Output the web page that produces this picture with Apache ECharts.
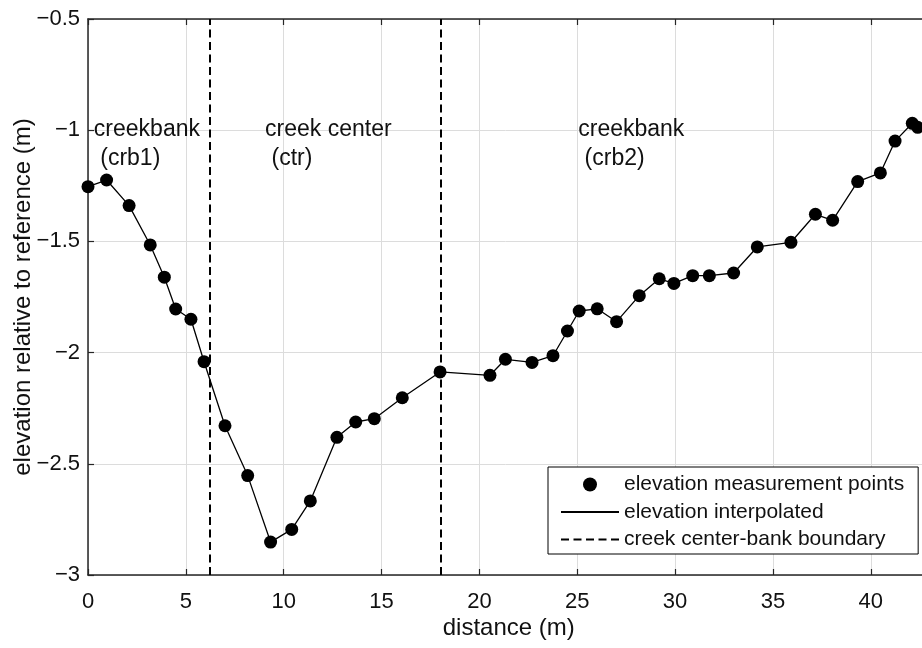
<!DOCTYPE html>
<html>
<head>
<meta charset="utf-8">
<script src="https://cdn.jsdelivr.net/npm/echarts@6/dist/echarts.min.js"></script>
<style>
  html, body { margin: 0; padding: 0; background: #fff; }
  #chart { width: 922px; height: 648px; }
</style>
</head>
<body>
<div id="chart"></div>
<script>
// Survey transect: distance along the line (m) and elevation relative to reference (m)
const distance = [0, 0.95, 2.1, 3.18, 3.9, 4.48, 5.26, 5.93, 7.0, 8.16, 9.33, 10.41, 11.36,
  12.72, 13.68, 14.63, 16.06, 17.99, 20.54, 21.33, 22.69, 23.76, 24.5, 25.1, 26.02, 27.01,
  28.17, 29.19, 29.94, 30.9, 31.75, 32.99, 34.2, 35.92, 37.17, 38.05, 39.33, 40.49, 41.24,
  42.12, 42.4];
const elevation = [-1.254, -1.224, -1.339, -1.516, -1.661, -1.804, -1.850, -2.041, -2.329,
  -2.553, -2.852, -2.795, -2.667, -2.381, -2.312, -2.297, -2.203, -2.087, -2.102, -2.030,
  -2.044, -2.014, -1.903, -1.813, -1.803, -1.861, -1.744, -1.668, -1.689, -1.654, -1.654,
  -1.642, -1.525, -1.504, -1.378, -1.405, -1.231, -1.192, -1.049, -0.969, -0.987];

// Creek center / bank boundaries (m)
const boundaries = [6.2, 18.0];

// Zone names and where they are written (data coordinates)
const zoneNames = ['creekbank\n (crb1)', 'creek center\n (ctr)', 'creekbank\n (crb2)'];
const zoneX = [0.3, 9.05, 25.05];
const zoneY = [-1.065, -1.065, -1.065];

const seriesNames = ['elevation measurement points', 'elevation interpolated', 'creek center-bank boundary'];

const pairs = distance.map((d, i) => [d, elevation[i]]);
const zones = zoneNames.map((n, i) => ({ value: [zoneX[i], zoneY[i]], name: n }));

const FONT = '"Liberation Sans", Arial, Helvetica, sans-serif';
const AXIS_COLOR = '#262626';
const INK = '#111111';

// Tick labels use a true minus sign
const fmtTick = v => String(v).replace('-', '\u2212');

const chart = echarts.init(document.getElementById('chart'), null, { renderer: 'canvas' });

chart.setOption({
  animation: false,
  backgroundColor: '#ffffff',
  textStyle: { fontFamily: FONT },
  grid: {
    left: 88, top: 19, width: 841.5, height: 556,
    containLabel: false, outerBoundsMode: 'none'
  },
  legend: {
    orient: 'vertical',
    left: 548,
    top: 467,
    data: [
      { name: seriesNames[0], icon: 'circle' },
      { name: seriesNames[1], itemStyle: { opacity: 0 } },
      { name: seriesNames[2], itemStyle: { opacity: 0 } }
    ],
    itemWidth: 58,
    itemHeight: 14,
    itemGap: 6.5,
    padding: [7, 14, 4, 12],
    borderColor: '#000',
    borderWidth: 1,
    backgroundColor: '#fff',
    selectedMode: false,
    textStyle: { fontFamily: FONT, fontSize: 21, color: INK }
  },
  xAxis: [{
    type: 'value',
    min: 0,
    max: 43,
    interval: 5,
    position: 'bottom',
    name: 'distance (m)',
    nameLocation: 'middle',
    nameGap: 41,
    nameMoveOverlap: false,
    nameTextStyle: { fontFamily: FONT, fontSize: 24, color: INK },
    axisLine: { show: true, onZero: false, lineStyle: { color: AXIS_COLOR, width: 1.5 } },
    axisTick: { show: true, inside: true, length: 6, lineStyle: { color: AXIS_COLOR, width: 1.2 } },
    axisLabel: { fontFamily: FONT, fontSize: 22, color: INK, margin: 16, showMaxLabel: false },
    splitLine: { show: true, lineStyle: { color: '#dcdcdc', width: 1 } }
  }, {
    type: 'value',
    min: 0,
    max: 43,
    interval: 5,
    position: 'top',
    axisLine: { show: true, onZero: false, lineStyle: { color: AXIS_COLOR, width: 1.5 } },
    axisTick: { show: true, inside: true, length: 6, lineStyle: { color: AXIS_COLOR, width: 1.2 } },
    axisLabel: { show: false },
    splitLine: { show: false }
  }],
  yAxis: {
    type: 'value',
    min: -3,
    max: -0.5,
    interval: 0.5,
    name: 'elevation relative to reference (m)',
    nameLocation: 'middle',
    nameGap: 53,
    nameMoveOverlap: false,
    nameTextStyle: { fontFamily: FONT, fontSize: 24, color: INK },
    axisLine: { show: true, onZero: false, lineStyle: { color: AXIS_COLOR, width: 1.5 } },
    axisTick: { show: true, inside: true, length: 6, lineStyle: { color: AXIS_COLOR, width: 1.2 } },
    axisLabel: { fontFamily: FONT, fontSize: 22, color: INK, margin: 8, formatter: fmtTick },
    splitLine: { show: true, lineStyle: { color: '#dcdcdc', width: 1 } }
  },
  series: [
    {
      name: seriesNames[2],
      type: 'line',
      data: [],
      symbol: 'none',
      color: '#000',
      itemStyle: { opacity: 0 },
      lineStyle: { color: '#000', width: 2, type: [8, 4.5] },
      markLine: {
        silent: true,
        symbol: ['none', 'none'],
        label: { show: false },
        lineStyle: { color: '#000', width: 2, type: [8, 4.5], opacity: 1 },
        emphasis: { disabled: true },
        data: boundaries.map(b => ({ xAxis: b }))
      },
      z: 3
    },
    {
      name: seriesNames[1],
      type: 'line',
      data: pairs,
      symbol: 'none',
      color: '#000',
      itemStyle: { opacity: 0 },
      lineStyle: { color: '#000', width: 1.3 },
      z: 4
    },
    {
      name: seriesNames[0],
      type: 'scatter',
      data: pairs,
      symbol: 'circle',
      symbolSize: 13,
      itemStyle: { color: '#000', opacity: 1 },
      z: 5
    },
    {
      name: 'zones',
      type: 'scatter',
      data: zones,
      symbolSize: 0,
      silent: true,
      itemStyle: { opacity: 1 },
      label: {
        show: true,
        position: [0, 0],
        align: 'left',
        verticalAlign: 'middle',
        formatter: p => p.name,
        fontFamily: FONT,
        fontSize: 23,
        lineHeight: 29,
        color: INK,
        opacity: 1
      },
      z: 6
    }
  ]
});
</script>
</body>
</html>
